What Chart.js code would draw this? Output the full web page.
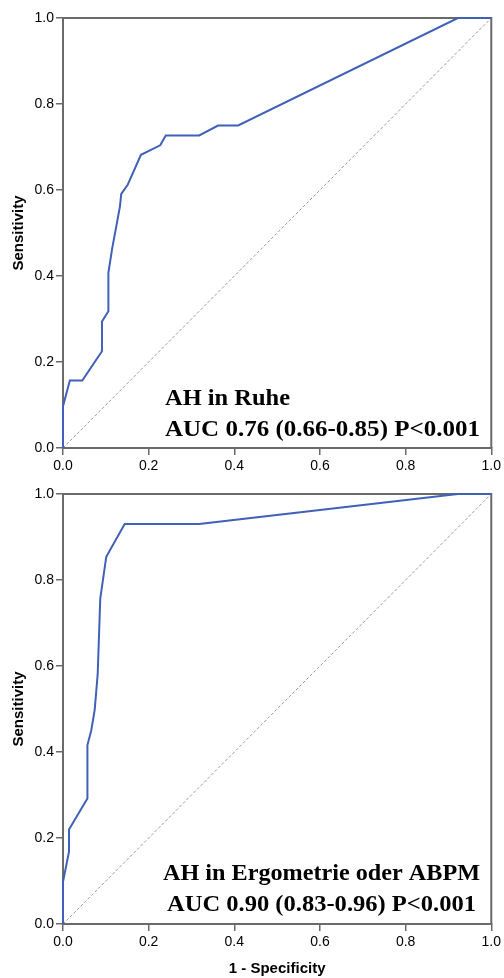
<!DOCTYPE html>
<html><head><meta charset="utf-8">
<script src="https://cdn.jsdelivr.net/npm/chart.js@4/dist/chart.umd.min.js"></script>
<style>
html,body{margin:0;padding:0;background:#fff;overflow:hidden;}
#w1{position:absolute;left:0;top:0;width:504px;height:478px;}
#w2{position:absolute;left:0;top:478px;width:504px;height:500px;}
</style></head><body>
<div id="w1"><canvas id="c1"></canvas></div>
<div id="w2"><canvas id="c2"></canvas></div>
<script>
// ---- data ----
const restFpr = [0, 0, 0.016, 0.045, 0.091, 0.091, 0.106, 0.106, 0.115, 0.123, 0.133, 0.136, 0.151, 0.182, 0.227, 0.240, 0.318, 0.362, 0.409, 0.922, 1];
const restTpr = [0, 0.097, 0.157, 0.157, 0.225, 0.294, 0.318, 0.408, 0.465, 0.508, 0.562, 0.591, 0.612, 0.682, 0.704, 0.727, 0.727, 0.750, 0.750, 1.0, 1];
const ergoFpr = [0, 0, 0.014, 0.014, 0.057, 0.057, 0.066, 0.074, 0.081, 0.087, 0.101, 0.144, 0.318, 0.922, 1];
const ergoTpr = [0, 0.098, 0.168, 0.220, 0.292, 0.416, 0.450, 0.498, 0.581, 0.757, 0.854, 0.930, 0.930, 1.0, 1];
const diagX = [0, 1];
const diagY = [0, 1];
const xTicks = [0, 0.2, 0.4, 0.6, 0.8, 1.0];
const yTicks = [0, 0.2, 0.4, 0.6, 0.8, 1.0];
const xTitle = '1 - Specificity';
const yTitle = 'Sensitivity';
const restLabel = ['AH in Ruhe', 'AUC 0.76 (0.66-0.85) P<0.001'];
const ergoLabel = ['AH in Ergometrie oder ABPM', 'AUC 0.90 (0.83-0.96) P<0.001'];

Chart.defaults.font.family = '"Liberation Sans", Arial, sans-serif';
Chart.defaults.color = '#000';

const AXIS = '#6a6a6a';

const framePlugin = {
  id: 'frame',
  beforeDatasetsDraw(chart) {
    const {ctx, chartArea: a} = chart;
    ctx.save();
    ctx.strokeStyle = AXIS;
    ctx.lineWidth = 2;
    ctx.beginPath();
    ctx.moveTo(a.left, a.top);
    ctx.lineTo(a.right, a.top);
    ctx.lineTo(a.right, a.bottom);
    ctx.stroke();
    ctx.restore();
  }
};

const annPlugin = {
  id: 'ann',
  afterDatasetsDraw(chart, args, opts) {
    const {ctx, chartArea: a} = chart;
    ctx.save();
    ctx.font = 'bold 24px "Liberation Serif", "Times New Roman", serif';
    ctx.fillStyle = '#000';
    ctx.textAlign = 'left';
    ctx.textBaseline = 'alphabetic';
    opts.lines.forEach((t, i) => {
      const w = ctx.measureText(t).width;
      const tw = opts.widths[i] || w;
      const sx = tw / w;
      ctx.save();
      ctx.translate(opts.xs[i], a.bottom - opts.offsets[i]);
      ctx.scale(sx, 1);
      ctx.fillText(t, 0, 0);
      ctx.restore();
    });
    ctx.restore();
  }
};

function makeChart(id, fpr, tpr, lines, cfg) {
  const pts = fpr.map((x, i) => ({x: x, y: tpr[i]}));
  const diag = diagX.map((x, i) => ({x: x, y: diagY[i]}));
  return new Chart(document.getElementById(id), {
    type: 'scatter',
    data: {
      datasets: [
        {data: diag, showLine: true, borderColor: '#9a9a9a', borderWidth: 1, borderDash: [3, 2], pointRadius: 0, order: 2},
        {data: pts, showLine: true, borderColor: '#4160b8', borderWidth: 2, pointRadius: 0, tension: 0, order: 1, clip: 3}
      ]
    },
    plugins: [framePlugin, annPlugin],
    options: {
      responsive: true,
      maintainAspectRatio: false,
      animation: false,
      events: [],
      layout: {padding: {top: cfg.padTop, right: 11, left: 10, bottom: 0}},
      plugins: {
        legend: {display: false},
        tooltip: {enabled: false},
        ann: {lines: lines, xs: cfg.textXs, offsets: cfg.offsets, widths: cfg.widths}
      },
      scales: {
        x: {
          type: 'linear', min: 0, max: 1,
          afterBuildTicks: s => { s.ticks = xTicks.map(v => ({value: v})); },
          afterFit: s => { s.height = cfg.xHeight; },
          border: {display: true, color: AXIS, width: 2},
          grid: {display: true, drawOnChartArea: false, drawTicks: true, tickLength: 7, tickColor: AXIS, lineWidth: 1.5},
          ticks: {font: {size: 14}, color: '#000', padding: 3, maxRotation: 0, callback: v => Number(v).toFixed(1)},
          title: {display: cfg.showXTitle, text: xTitle, font: {size: 15, weight: 'bold'}, color: '#000', padding: {top: 4, bottom: 0}}
        },
        y: {
          type: 'linear', min: 0, max: 1,
          afterBuildTicks: s => { s.ticks = yTicks.map(v => ({value: v})); },
          afterFit: s => { s.width = 53; },
          border: {display: true, color: AXIS, width: 2},
          grid: {display: true, drawOnChartArea: false, drawTicks: true, tickLength: 7, tickColor: AXIS, lineWidth: 1.5},
          ticks: {font: {size: 14}, color: '#000', padding: 2, callback: v => Number(v).toFixed(1)},
          title: {display: true, text: yTitle, font: {size: 15, weight: 'bold'}, color: '#000', padding: {top: 0, bottom: 4}}
        }
      }
    }
  });
}

makeChart('c1', restFpr, restTpr, restLabel, {padTop: 18, xHeight: 30, showXTitle: false, textXs: [165, 165], offsets: [43, 12], widths: [125, 315]});
makeChart('c2', ergoFpr, ergoTpr, ergoLabel, {padTop: 16, xHeight: 54, showXTitle: true, textXs: [163, 167], offsets: [44, 13], widths: [317, 309]});
</script>
</body></html>
